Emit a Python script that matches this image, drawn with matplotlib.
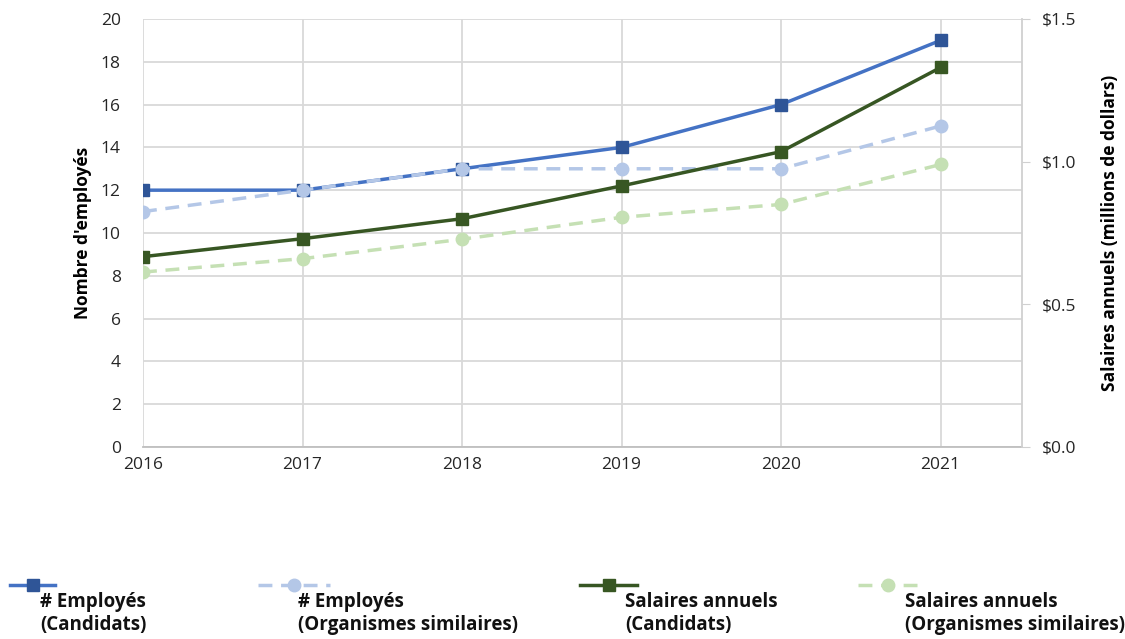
import matplotlib.pyplot as plt
from matplotlib.lines import Line2D
from matplotlib.ticker import FuncFormatter

years = [2016, 2017, 2018, 2019, 2020, 2021]
emp_cand = [12, 12, 13, 14, 16, 19]
emp_org = [11, 12, 13, 13, 13, 15]
sal_cand = [0.667, 0.73, 0.80, 0.915, 1.035, 1.33]
sal_org = [0.613, 0.66, 0.728, 0.805, 0.85, 0.99]

legend_labels = ["# Employés\n(Candidats)", "# Employés\n(Organismes similaires)",
                 "Salaires annuels\n(Candidats)", "Salaires annuels\n(Organismes similaires)"]

blue = "#4472C4"
blue_dark = "#2F5597"
blue_light = "#B4C7E7"
green = "#375623"
green_mark = "#385723"
green_light = "#C5E0B4"
grid_c = "#D9D9D9"

plt.rcParams['font.family'] = ['Open Sans', 'DejaVu Sans']

fig = plt.figure(figsize=(11.25, 6.39), dpi=100)
ax = fig.add_axes([0.1271, 0.3005, 0.7813, 0.6698])
ax2 = ax.twinx()

ax.plot(years, emp_cand, color=blue, lw=2.5, marker='s', ms=9, mfc=blue_dark, mec=blue_dark, zorder=3)
ax.plot(years, emp_org, color=blue_light, lw=2.5, ls=(0, (4, 2.5)), marker='o', ms=9, zorder=4)
ax2.plot(years, sal_org, color=green_light, lw=2.5, ls=(0, (4, 2.5)), marker='o', ms=9)
ax2.plot(years, sal_cand, color=green, lw=2.5, marker='s', ms=9, mfc=green_mark, mec=green_mark)

ax.set_xlim(2016, 2021.51)
ax.set_ylim(0, 20)
ax2.set_ylim(0, 1.5)
ax.set_yticks(range(0, 21, 2))
ax2.set_yticks([0, 0.5, 1.0, 1.5])
ax2.yaxis.set_major_formatter(FuncFormatter(lambda v, p: "${:.1f}".format(v)))
ax.set_xticks(years)

ax.grid(True, color=grid_c, lw=1.3)
ax.set_axisbelow(True)
for a in (ax, ax2):
    for s in a.spines.values():
        s.set_visible(False)
ax.spines['bottom'].set_visible(True)
ax.spines['bottom'].set_color("#BFBFBF")
ax.spines['bottom'].set_linewidth(1.3)
ax2.spines['right'].set_visible(True)
ax2.spines['right'].set_color("#D0D0D0")
ax2.spines['right'].set_linewidth(1.3)

ax.tick_params(axis='y', length=0, labelsize=12.5, pad=16, colors='#262626')
ax.tick_params(axis='x', length=0, labelsize=12.5, pad=7, colors='#262626')
ax2.tick_params(axis='y', length=6, labelsize=12.5, pad=8, colors='#262626')
ax2.tick_params(axis='y', color="#D0D0D0")

ax.set_ylabel("Nombre d'employés", fontsize=12.5, fontweight='bold', labelpad=6)
ax2.set_ylabel("Salaires annuels (millions de dollars)", fontsize=12.5, fontweight='bold', labelpad=18)

# legend drawn below the chart, handle above label
styles = [
    dict(color=blue, ls='-', marker='s', mfc=blue_dark, mec=blue_dark),
    dict(color=blue_light, ls=(0, (4, 2.5)), marker='o', mfc=blue_light, mec=blue_light),
    dict(color=green, ls='-', marker='s', mfc=green_mark, mec=green_mark),
    dict(color=green_light, ls=(0, (4, 2.5)), marker='o', mfc=green_light, mec=green_light),
]
handle_x = [(10, 55), (258, 330), (580, 637), (858, 917)]
text_x = [40, 298, 625, 905]
W, H = 1125, 639
for (x0, x1), tx, st, lab in zip(handle_x, text_x, styles, legend_labels):
    fig.add_artist(Line2D([x0 / W, x1 / W], [1 - 585 / H] * 2, lw=2.5, **{k: v for k, v in st.items() if k not in ('marker', 'mfc', 'mec')}))
    fig.add_artist(Line2D([(x0 + x1) / 2 / W], [1 - 585 / H], marker=st['marker'], ms=9,
                          mfc=st['mfc'], mec=st['mec'], ls='none'))
    fig.text(tx / W, 1 - 592 / H, lab, fontsize=13.5, fontweight='bold', va='top', ha='left',
             linespacing=1.2, color='#111111')

plt.savefig("out.png", dpi=100)
